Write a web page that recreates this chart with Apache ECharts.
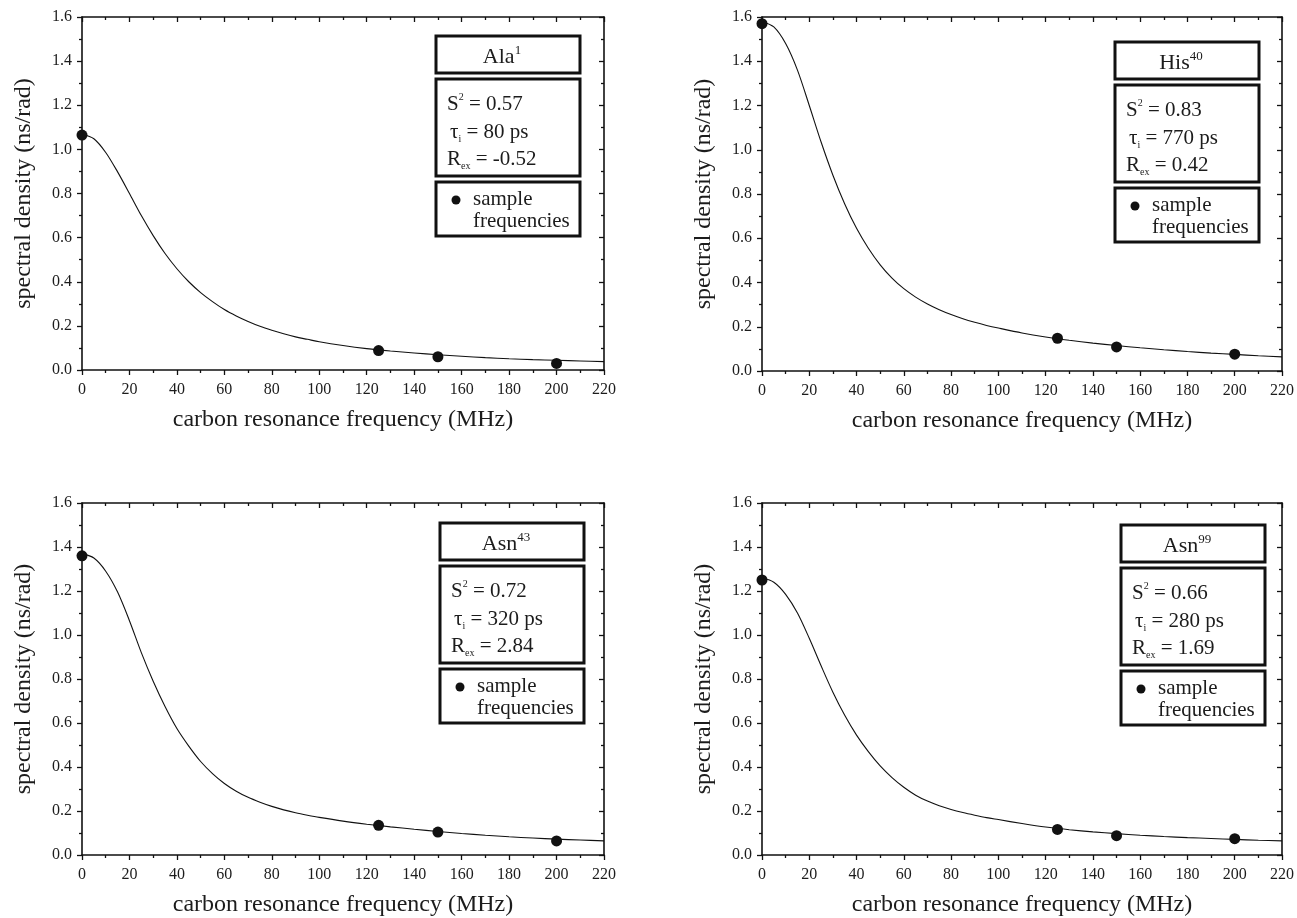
<!DOCTYPE html>
<html>
<head>
<meta charset="utf-8">
<script src="https://cdn.jsdelivr.net/npm/echarts@6/dist/echarts.min.js"></script>
<style>
  html, body { margin: 0; padding: 0; background: #fff; }
  #main { width: 1297px; height: 918px; }
</style>
</head>
<body>
<div id="main"></div>
<script>
const FONT = '"Liberation Serif", "Times New Roman", serif';
const INK = '#111';
const TEXT = '#1c1c1c';

// Frequencies (MHz) at which the fitted spectral density curves are tabulated
const curveFreq = [0, 5, 10, 15, 20, 25, 30, 35, 40, 45, 50, 55, 60, 65, 70, 75, 80, 85, 90, 95, 100,
                   110, 120, 130, 140, 150, 160, 170, 180, 190, 200, 210, 220];
// Carbon frequencies at which J(ω) was sampled
const sampleFreq = [0, 125, 150, 200];

const ala1Curve = [1.07, 1.048, 0.986, 0.898, 0.80, 0.70, 0.609, 0.528, 0.459, 0.40, 0.351, 0.31, 0.274,
                   0.245, 0.22, 0.198, 0.18, 0.164, 0.15, 0.139, 0.128,
                   0.111, 0.097, 0.086, 0.077, 0.069, 0.062, 0.056, 0.051, 0.047, 0.044, 0.041, 0.038];
const ala1Samples = [1.065, 0.088, 0.060, 0.030];

const his40Curve = [1.58, 1.555, 1.48, 1.36, 1.20, 1.035, 0.885, 0.755, 0.645, 0.555, 0.48, 0.42, 0.372,
                    0.334, 0.303, 0.277, 0.255, 0.236, 0.22, 0.206, 0.194,
                    0.172, 0.154, 0.139, 0.126, 0.115, 0.105, 0.096, 0.088, 0.081, 0.075, 0.069, 0.064];
const his40Samples = [1.57, 0.148, 0.109, 0.076];

const asn43Curve = [1.37, 1.35, 1.29, 1.195, 1.065, 0.92, 0.79, 0.675, 0.575, 0.495, 0.425, 0.37, 0.325,
                    0.29, 0.262, 0.24, 0.221, 0.205, 0.192, 0.181, 0.171,
                    0.154, 0.14, 0.128, 0.117, 0.107, 0.098, 0.09, 0.083, 0.077, 0.072, 0.068, 0.064];
const asn43Samples = [1.36, 0.135, 0.104, 0.064];

const asn99Curve = [1.26, 1.24, 1.185, 1.10, 0.985, 0.86, 0.74, 0.635, 0.545, 0.47, 0.405, 0.352, 0.308,
                    0.272, 0.245, 0.224, 0.207, 0.193, 0.181, 0.17, 0.161,
                    0.143, 0.127, 0.115, 0.105, 0.097, 0.09, 0.084, 0.079, 0.075, 0.071, 0.067, 0.064];
const asn99Samples = [1.25, 0.116, 0.088, 0.074];

// Fitted model-free parameters, one entry per residue
const residueNames = ['Ala', 'His', 'Asn', 'Asn'];
const residueNumbers = ['1', '40', '43', '99'];
const s2Values = ['0.57', '0.83', '0.72', '0.66'];
const tauValues = ['80', '770', '320', '280'];
const rexValues = ['-0.52', '0.42', '2.84', '1.69'];

const curves = [ala1Curve, his40Curve, asn43Curve, asn99Curve];
const samples = [ala1Samples, his40Samples, asn43Samples, asn99Samples];

// Axis ranges
const xMin = 0, xMax = 220, xStep = 20;
const yMin = 0, yMax = 1.6, yStep = 0.2;

// Panel geometry (pixels)
const panels = [
  { left: 82,  top: 17,  width: 522, height: 353, boxDx: 354, boxDy: 16 },
  { left: 762, top: 17,  width: 522, height: 354, boxDx: 353, boxDy: 22 },
  { left: 82,  top: 503, width: 522, height: 353, boxDx: 358, boxDy: 17 },
  { left: 762, top: 503, width: 522, height: 354, boxDx: 359, boxDy: 19 }
];

const lineStyle = { color: INK, width: 1.6 };
const tickStyle = { color: INK, width: 1.3 };
const labelFont = { color: TEXT, fontFamily: FONT, fontSize: 16 };
const titleFont = { fontFamily: FONT, fontSize: 24, color: TEXT };

const grids = [], xAxes = [], yAxes = [], series = [], graphics = [];

panels.forEach((p, i) => {
  grids.push({ left: p.left, top: p.top, width: p.width, height: p.height, containLabel: false });

  const common = {
    type: 'value', gridIndex: i, splitLine: { show: false },
    axisLine: { show: true, onZero: false, lineStyle: lineStyle }
  };
  const ticks = inside => ({
    axisTick: { show: true, inside: inside, length: 5, lineStyle: tickStyle },
    minorTick: { show: true, splitNumber: 2, length: 3, lineStyle: tickStyle }
  });

  // bottom axis with labels and outward ticks
  xAxes.push(Object.assign({}, common, ticks(false), {
    position: 'bottom', min: xMin, max: xMax, interval: xStep,
    axisLabel: Object.assign({ margin: 12 }, labelFont),
    name: 'carbon resonance frequency (MHz)', nameLocation: 'middle', nameGap: 38,
    nameTextStyle: titleFont
  }));
  // top frame edge with inward ticks
  xAxes.push(Object.assign({}, common, ticks(true), {
    position: 'top', min: xMin, max: xMax, interval: xStep,
    axisLabel: { show: false }
  }));
  // left axis with labels
  yAxes.push(Object.assign({}, common, ticks(false), {
    position: 'left', min: yMin, max: yMax, interval: yStep,
    axisLabel: Object.assign({ margin: 10, formatter: v => v.toFixed(1) }, labelFont),
    name: 'spectral density (ns/rad)', nameLocation: 'middle', nameGap: 46,
    nameTextStyle: titleFont
  }));
  // right frame edge with inward ticks
  yAxes.push(Object.assign({}, common, ticks(true), {
    position: 'right', min: yMin, max: yMax, interval: yStep,
    axisLabel: { show: false }
  }));

  series.push({
    type: 'line', xAxisIndex: 2 * i, yAxisIndex: 2 * i,
    data: curveFreq.map((f, k) => [f, curves[i][k]]),
    showSymbol: false, symbol: 'none', smooth: 0.3,
    lineStyle: { color: INK, width: 1.1 }, silent: true, z: 2
  });
  series.push({
    type: 'scatter', xAxisIndex: 2 * i, yAxisIndex: 2 * i,
    data: sampleFreq.map((f, k) => [f, samples[i][k]]),
    symbol: 'circle', symbolSize: 11, itemStyle: { color: INK, opacity: 1 },
    clip: false, silent: true, z: 3
  });

  // parameter boxes in the upper right corner of the panel
  const bx = p.left + p.boxDx, by = p.top + p.boxDy, bw = 144;
  const boxStyle = { fill: '#fff', stroke: INK, lineWidth: 3 };
  graphics.push({ type: 'rect', shape: { x: bx, y: by + 3, width: bw, height: 37 }, style: boxStyle, z: 10 });
  graphics.push({ type: 'rect', shape: { x: bx, y: by + 46, width: bw, height: 97 }, style: boxStyle, z: 10 });
  graphics.push({ type: 'rect', shape: { x: bx, y: by + 149, width: bw, height: 54 }, style: boxStyle, z: 10 });

  const rich = {
    t:   { fontFamily: FONT, fontSize: 22, fill: TEXT, lineHeight: 26 },
    ts:  { fontFamily: FONT, fontSize: 13, fill: TEXT, verticalAlign: 'top' },
    m:   { fontFamily: FONT, fontSize: 21, fill: TEXT, lineHeight: 24 },
    sup: { fontFamily: FONT, fontSize: 10, fill: TEXT, verticalAlign: 'top' },
    sub: { fontFamily: FONT, fontSize: 10, fill: TEXT, verticalAlign: 'bottom' }
  };
  const txt = (x, y, text, align) => ({
    type: 'text', x: x, y: y, z: 11, silent: true,
    style: {
      text: text, rich: rich, fontFamily: FONT, fontSize: 21, fill: TEXT,
      align: align || 'left', verticalAlign: 'middle',
      textAlign: align || 'left', textVerticalAlign: 'middle'
    }
  });

  graphics.push(txt(bx + bw / 2 - 6, by + 24, '{t|' + residueNames[i] + '}{ts|' + residueNumbers[i] + '}', 'center'));
  graphics.push(txt(bx + 11, by + 46 + 25, '{m|S}{sup|2}{m| = ' + s2Values[i] + '}'));
  graphics.push(txt(bx + 14, by + 46 + 53, '{m|τ}{sub|i}{m| = ' + tauValues[i] + ' ps}'));
  graphics.push(txt(bx + 11, by + 46 + 80, '{m|R}{sub|ex}{m| = ' + rexValues[i] + '}'));

  graphics.push({ type: 'circle', shape: { cx: bx + 20, cy: by + 149 + 18, r: 4.5 },
                  style: { fill: INK }, z: 11, silent: true });
  graphics.push(txt(bx + 37, by + 149 + 17, '{m|sample}'));
  graphics.push(txt(bx + 37, by + 149 + 39, '{m|frequencies}'));
});

const chart = echarts.init(document.getElementById('main'), null, { renderer: 'canvas' });
chart.setOption({
  animation: false,
  backgroundColor: '#fff',
  grid: grids,
  xAxis: xAxes,
  yAxis: yAxes,
  series: series,
  graphic: graphics
});
</script>
</body>
</html>
